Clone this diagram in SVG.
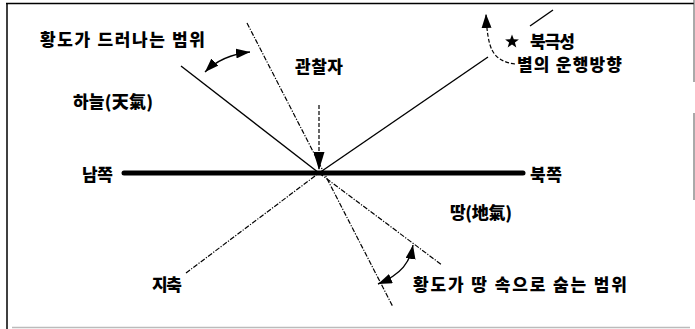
<svg xmlns="http://www.w3.org/2000/svg" width="695" height="329" viewBox="0 0 695 329">
<defs>
<style>
text{font-family:"Noto Sans CJK KR","Noto Sans",sans-serif;font-weight:900;font-size:17px;fill:#000}
.solid{stroke:#000;stroke-width:1.4;fill:none}
.dd{stroke:#000;stroke-width:1.2;fill:none;stroke-dasharray:5 1.5 1.2 1.5}
.dash{stroke:#000;stroke-width:1.2;fill:none;stroke-dasharray:4 2}
</style>
<marker id="ah" viewBox="0 0 14 10" refX="14" refY="5" markerWidth="14" markerHeight="10" markerUnits="userSpaceOnUse" orient="auto-start-reverse">
<path d="M0 0 L14 5 L0 10 Z" fill="#000"/>
</marker>
<marker id="ahv" viewBox="0 0 18 11" refX="18" refY="5.5" markerWidth="18" markerHeight="11" markerUnits="userSpaceOnUse" orient="auto">
<path d="M0 0 L18 5.5 L0 11 Z" fill="#000"/>
</marker>
</defs>
<rect width="695" height="329" fill="#fff"/>
<g id="frame">
<line x1="6" y1="3.5" x2="694" y2="3.5" stroke="#000" stroke-width="1.5"/>
<line x1="7" y1="3" x2="7" y2="329" stroke="#000" stroke-width="1.5"/>
<line x1="694" y1="0" x2="694" y2="82" stroke="#555" stroke-width="1"/>
<line x1="694" y1="113" x2="694" y2="200" stroke="#555" stroke-width="1"/>
<line x1="12" y1="327.5" x2="690" y2="327.5" stroke="#bbb" stroke-width="1.5"/>
</g>
<g id="connectors">
<line id="horizon" x1="124" y1="173" x2="523" y2="173" stroke="#000" stroke-width="5" stroke-linecap="round"/>
<line class="solid" x1="181" y1="66" x2="319" y2="173"/>
<line class="dd" x1="319" y1="173" x2="442" y2="265"/>
<line class="dd" x1="247" y1="23" x2="393" y2="307"/>
<line class="dd" x1="186" y1="273" x2="319" y2="173"/>
<line class="solid" x1="319" y1="173" x2="488" y2="57"/>
<line class="solid" x1="530" y1="26" x2="553" y2="10"/>
<line class="dash" x1="319" y1="105" x2="319" y2="170" marker-end="url(#ahv)"/>
<path class="solid" d="M205 72 Q222 55 250 52" marker-start="url(#ah)" marker-end="url(#ah)"/>
<path class="dash" d="M515 64 Q498 62 492 50 Q487 40 486 14" marker-end="url(#ah)"/>
<path class="solid" d="M413 245 C410 262 402 274 378 284" marker-start="url(#ah)" marker-end="url(#ah)"/>
</g>
<g id="ecliptic-up"><text x="40" y="46" textLength="165" lengthAdjust="spacing">황도가 드러나는 범위</text></g>
<g id="observer"><text x="295" y="73" textLength="48" lengthAdjust="spacing">관찰자</text></g>
<g id="sky"><text x="73" y="108" textLength="80" lengthAdjust="spacing">하늘(天氣)</text></g>
<g id="south"><text x="82" y="181" textLength="31" lengthAdjust="spacing">남쪽</text></g>
<g id="north"><text x="530" y="181" textLength="32" lengthAdjust="spacing">북쪽</text></g>
<g id="earth"><text x="450" y="219" textLength="62" lengthAdjust="spacing">땅(地氣)</text></g>
<g id="axis"><text x="152" y="291" textLength="30" lengthAdjust="spacing">지축</text></g>
<g id="ecliptic-down"><text x="413" y="291" textLength="214" lengthAdjust="spacing">황도가 땅 속으로 숨는 범위</text></g>
<g id="polaris">
<path d="M512 34.5 L513.8 39.3 L518.9 39.4 L514.9 42.5 L516.3 47.4 L512 44.5 L507.7 47.4 L509.1 42.5 L505.1 39.4 L510.2 39.3 Z" fill="#000"/>
<text x="530" y="48" textLength="45" lengthAdjust="spacing">북극성</text>
</g>
<g id="star-motion"><text x="517" y="71" textLength="105" lengthAdjust="spacing">별의 운행방향</text></g>
</svg>
